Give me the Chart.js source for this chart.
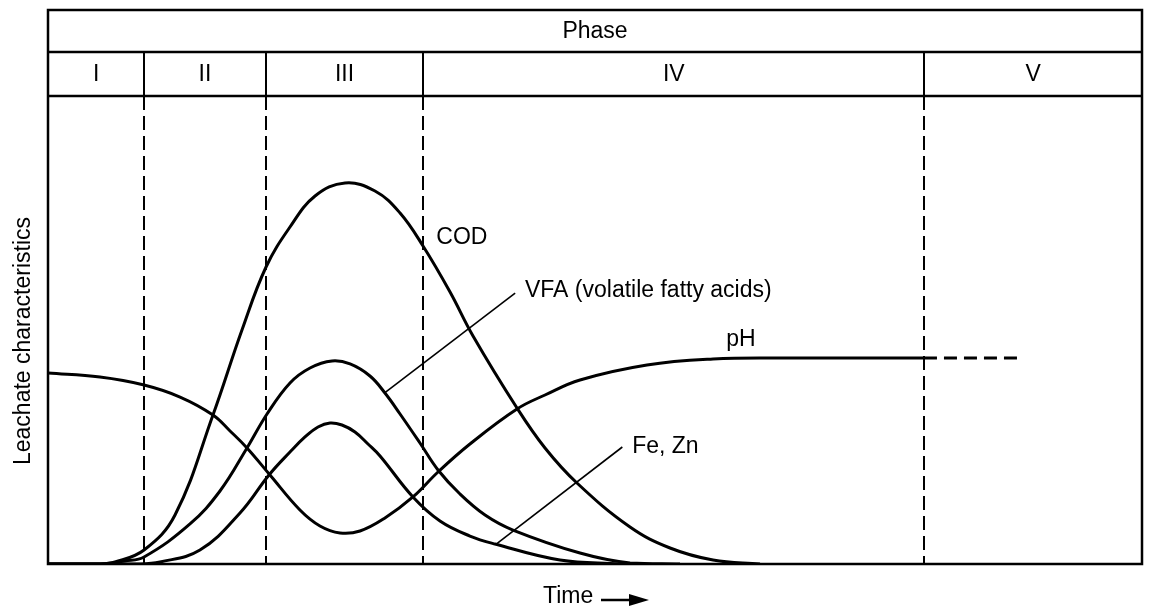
<!DOCTYPE html>
<html>
<head>
<meta charset="utf-8">
<script src="https://cdn.jsdelivr.net/npm/chart.js@4.4.1/dist/chart.umd.min.js"></script>
<style>
  html, body { margin: 0; padding: 0; background: #ffffff; }
  canvas { display: block; }
</style>
</head>
<body>
<canvas id="c" width="1149" height="610"></canvas>
<script>
// ---- Data (time axis 0..100, leachate characteristic 0..100, arbitrary units) ----
const phaseLabels = ['I', 'II', 'III', 'IV', 'V'];
const phaseBounds = [0, 8.8, 19.9, 34.3, 80.1, 100];

const codT = [0, 4.75, 6.12, 8.78, 11.61, 15.08, 17.73, 19.93, 22.12, 24.41, 27.15, 29.89, 32.18, 34.28, 36.75, 38.85, 42.87, 45.43, 48.35, 53.2, 56.86, 60.79, 65.08];
const codV = [0, 0, 0.43, 2.99, 10.47, 31.84, 50.0, 63.46, 72.01, 78.63, 81.41, 79.7, 75.0, 67.95, 58.12, 48.72, 33.33, 24.79, 17.31, 7.91, 3.42, 0.85, 0];

const vfaT = [0, 4.75, 7.04, 8.78, 12.98, 15.72, 18.19, 20.02, 22.12, 23.95, 25.96, 27.61, 29.43, 30.8, 32.18, 34.0, 35.65, 37.66, 39.95, 42.5, 48.63, 53.2, 57.77];
const vfaV = [0, 0, 0.64, 1.5, 8.55, 15.6, 24.79, 32.05, 38.68, 41.88, 43.38, 42.74, 40.17, 36.54, 32.05, 25.85, 20.09, 14.96, 10.47, 7.26, 2.35, 0.21, 0];

const feT = [0, 8.41, 10.24, 13.89, 17.55, 20.2, 22.12, 23.49, 24.68, 25.78, 26.87, 28.06, 29.25, 30.35, 33.36, 35.83, 38.57, 40.86, 46.8, 52.29];
const feV = [0, 0, 0.43, 2.99, 10.9, 19.02, 23.93, 27.14, 29.27, 30.13, 29.7, 28.21, 25.64, 23.08, 14.32, 9.19, 5.98, 4.27, 0.85, 0];

const phT = [0, 4.75, 8.78, 12.07, 15.08, 16.64, 18.19, 20.29, 23.03, 24.86, 26.69, 28.52, 30.8, 33.36, 35.65, 38.57, 42.87, 45.43, 48.63, 54.75, 60.79, 66.91, 80.07];
const phV = [40.81, 39.96, 38.25, 35.68, 31.84, 28.42, 24.79, 19.02, 11.54, 8.12, 6.62, 7.05, 9.83, 14.32, 19.66, 25.64, 33.12, 36.11, 39.32, 42.52, 43.8, 44.02, 44.02];

const phExtT = [80.07, 88.85];
const phExtV = [44.02, 44.02];

const noteTexts = ['COD', 'VFA (volatile fatty acids)', 'pH', 'Fe, Zn'];
const noteT = [35.5, 43.6, 62.0, 53.4];
const noteV = [69.7, 58.3, 47.9, 25.0];

// leader lines: [t1, v1, t2, v2]
const leaders = [[30.8, 36.6, 42.7, 57.9], [41.0, 4.3, 52.5, 25.0]];

const yTitle = 'Leachate characteristics';
const xTitle = 'Time';
const headerTitle = 'Phase';

// ---- helpers ----
const zip = (t, v) => t.map((x, i) => ({ x: x, y: v[i] }));
const FONT = '23px "Liberation Sans", Arial, Helvetica, sans-serif';

const lineStyle = {
  borderColor: '#000',
  borderWidth: 3,
  pointRadius: 0,
  fill: false,
  tension: 0.4
};

const framePlugin = {
  id: 'frame',
  beforeDatasetsDraw(chart) {
    const ctx = chart.ctx;
    const ca = chart.chartArea;
    const xs = chart.scales.x;
    const top = ca.top, bottom = ca.bottom, left = ca.left, right = ca.right;
    const hTop = top - 86, hMid = top - 44;
    ctx.save();
    ctx.strokeStyle = '#000';
    ctx.lineWidth = 2.5;
    ctx.lineCap = 'butt';
    ctx.strokeRect(left, hTop, right - left, bottom - hTop);
    ctx.beginPath();
    ctx.moveTo(left, hMid); ctx.lineTo(right, hMid);
    ctx.moveTo(left, top); ctx.lineTo(right, top);
    ctx.stroke();
    ctx.lineWidth = 2;
    for (let i = 1; i < phaseBounds.length - 1; i++) {
      const px = Math.round(xs.getPixelForValue(phaseBounds[i]));
      ctx.setLineDash([]);
      ctx.beginPath();
      ctx.moveTo(px, hMid); ctx.lineTo(px, top);
      ctx.stroke();
      ctx.setLineDash([14, 6]);
      ctx.beginPath();
      ctx.moveTo(px, top); ctx.lineTo(px, bottom);
      ctx.stroke();
    }
    ctx.setLineDash([]);
    ctx.fillStyle = '#000';
    ctx.font = FONT;
    ctx.textAlign = 'center';
    ctx.textBaseline = 'middle';
    ctx.fillText(headerTitle, (left + right) / 2, (hTop + hMid) / 2 + 1);
    for (let i = 0; i < phaseLabels.length; i++) {
      const a = xs.getPixelForValue(phaseBounds[i]);
      const b = xs.getPixelForValue(phaseBounds[i + 1]);
      ctx.fillText(phaseLabels[i], (a + b) / 2, (hMid + top) / 2 + 1);
    }
    ctx.save();
    ctx.translate(24, (top + bottom) / 2 + 11);
    ctx.rotate(-Math.PI / 2);
    ctx.fillText(yTitle, 0, 0);
    ctx.restore();
    ctx.textAlign = 'left';
    const tx = 543, ty = bottom + 33;
    ctx.fillText(xTitle, tx, ty);
    ctx.lineWidth = 2.5;
    ctx.beginPath();
    ctx.moveTo(601, ty + 3); ctx.lineTo(635, ty + 3);
    ctx.stroke();
    ctx.beginPath();
    ctx.moveTo(629, ty - 3); ctx.lineTo(649, ty + 3); ctx.lineTo(629, ty + 9);
    ctx.closePath();
    ctx.fill();
    ctx.restore();
  },
  afterDatasetsDraw(chart) {
    const ctx = chart.ctx;
    const xs = chart.scales.x, ys = chart.scales.y;
    ctx.save();
    ctx.strokeStyle = '#000';
    ctx.fillStyle = '#000';
    ctx.lineWidth = 1.6;
    leaders.forEach(l => {
      ctx.beginPath();
      ctx.moveTo(xs.getPixelForValue(l[0]), ys.getPixelForValue(l[1]));
      ctx.lineTo(xs.getPixelForValue(l[2]), ys.getPixelForValue(l[3]));
      ctx.stroke();
    });
    ctx.font = FONT;
    ctx.textAlign = 'left';
    ctx.textBaseline = 'middle';
    noteTexts.forEach((t, i) => {
      ctx.fillText(t, xs.getPixelForValue(noteT[i]), ys.getPixelForValue(noteV[i]));
    });
    ctx.restore();
  }
};

new Chart(document.getElementById('c'), {
  type: 'line',
  data: {
    datasets: [
      Object.assign({ label: 'COD', data: zip(codT, codV) }, lineStyle),
      Object.assign({ label: 'VFA', data: zip(vfaT, vfaV) }, lineStyle),
      Object.assign({ label: 'Fe, Zn', data: zip(feT, feV) }, lineStyle),
      Object.assign({ label: 'pH', data: zip(phT, phV) }, lineStyle),
      Object.assign({ label: 'pH (extrapolated)', data: zip(phExtT, phExtV) }, lineStyle, { borderDash: [13, 7], borderWidth: 3, tension: 0 })
    ]
  },
  options: {
    responsive: false,
    animation: false,
    devicePixelRatio: 1,
    layout: { padding: { left: 48, right: 7, top: 96, bottom: 46 } },
    plugins: { legend: { display: false }, tooltip: { enabled: false } },
    scales: {
      x: { type: 'linear', min: 0, max: 100, display: false },
      y: { type: 'linear', min: 0, max: 100, display: false }
    }
  },
  plugins: [framePlugin]
});
</script>
</body>
</html>
